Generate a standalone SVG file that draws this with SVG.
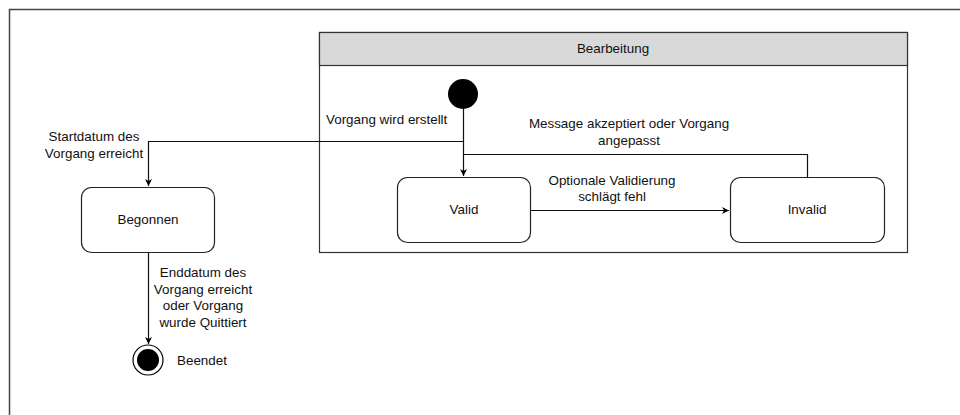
<svg xmlns="http://www.w3.org/2000/svg" width="960" height="415" viewBox="0 0 960 415">
<style>
text{font-family:"Liberation Sans",Arial,sans-serif;font-size:13.4px;fill:#111;}
.c{text-anchor:middle;}
.st{fill:#fff;stroke:#222;stroke-width:1.2;}
.ln{fill:none;stroke:#111;stroke-width:1.2;}
</style>
<defs>
<marker id="ar" markerWidth="10" markerHeight="10" refX="8" refY="5" orient="auto" markerUnits="userSpaceOnUse">
<path d="M1,1.5 L8,5 L1,8.5 L3,5 Z" fill="#000"/>
</marker>
</defs>
<rect x="0" y="0" width="960" height="415" fill="#fff"/>
<path d="M9.5,415 V9.5 H960" fill="none" stroke="#444" stroke-width="1.5"/>
<g id="bearbeitung">
<rect x="319.5" y="32.5" width="588" height="220" fill="#fff" stroke="#333" stroke-width="1.2"/>
<rect x="319.5" y="32.5" width="588" height="33" fill="#d9d9d9" stroke="#333" stroke-width="1.2"/>
<text class="c" x="613" y="53">Bearbeitung</text>
</g>
<g id="initial">
<circle cx="463" cy="94" r="15" fill="#000"/>
</g>
<g id="valid">
<rect class="st" x="397.5" y="177.5" width="133" height="65" rx="10"/>
<text class="c" x="464" y="214">Valid</text>
</g>
<g id="invalid">
<rect class="st" x="730.5" y="177.5" width="154" height="65" rx="10"/>
<text class="c" x="807" y="214">Invalid</text>
</g>
<g id="begonnen">
<rect class="st" x="81.5" y="187.5" width="133" height="65" rx="10"/>
<text class="c" x="148" y="224">Begonnen</text>
</g>
<g id="beendet">
<circle cx="148" cy="360" r="15" fill="#fff" stroke="#000" stroke-width="1.2"/>
<circle cx="148" cy="360" r="11" fill="#000"/>
<text x="177" y="365">Beendet</text>
</g>
<g id="connectors">
<path class="ln" d="M463.5,109 V176" marker-end="url(#ar)"/>
<path class="ln" d="M463.5,141.5 H148.5 V186" marker-end="url(#ar)"/>
<path class="ln" d="M807.5,177 V154.5 H463.5"/>
<path class="ln" d="M531,210.5 H729" marker-end="url(#ar)"/>
<path class="ln" d="M148.5,253 V344" marker-end="url(#ar)"/>
</g>
<g id="labels">
<text x="326" y="124">Vorgang wird erstellt</text>
<text class="c" x="94" y="141">Startdatum des</text>
<text class="c" x="94" y="158">Vorgang erreicht</text>
<text class="c" x="629" y="128">Message akzeptiert oder Vorgang</text>
<text class="c" x="629" y="145">angepasst</text>
<text class="c" x="612" y="185">Optionale Validierung</text>
<text class="c" x="612" y="201">schlägt fehl</text>
<text class="c" x="203" y="277">Enddatum des</text>
<text class="c" x="203" y="294">Vorgang erreicht</text>
<text class="c" x="203" y="310">oder Vorgang</text>
<text class="c" x="203" y="327">wurde Quittiert</text>
</g>
</svg>
